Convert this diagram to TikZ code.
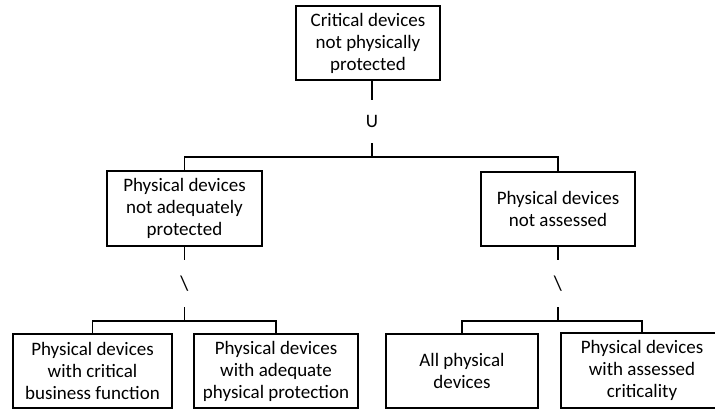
\documentclass[tikz,border=0pt]{standalone}
\usepackage{fontspec}
\setmainfont{Carlito}
\begin{document}
\begin{tikzpicture}[x=1pt,y=-1pt,
  every node/.style={font=\fontsize{19}{22}\selectfont},
  setbox/.style={draw,line width=1.7pt,rectangle,align=center,inner sep=0pt},
  opnode/.style={inner sep=0pt,minimum width=14pt},
  link/.style={line width=1.7pt}]
\useasboundingbox (0,0) rectangle (715,410);

% set boxes
\node[setbox,minimum width=144pt,minimum height=74pt] (top) at (368,43) {Critical devices\\not physically\\protected};
\node[setbox,minimum width=155pt,minimum height=75pt] (pna) at (184.5,208.5) {Physical devices\\not adequately\\protected};
\node[setbox,minimum width=154pt,minimum height=74pt] (pns) at (558,209) {Physical devices\\not assessed};
\node[setbox,minimum width=159pt,minimum height=74pt] (crit) at (92.5,371) {Physical devices\\with critical\\business function};
\node[setbox,minimum width=164pt,minimum height=74pt] (adeq) at (276,371) {Physical devices\\with adequate\\physical protection};
\node[setbox,minimum width=152pt,minimum height=74pt] (all) at (462,371) {All physical\\devices};
\node[setbox,minimum width=162pt,minimum height=75pt] (asse) at (642,370.5) {Physical devices\\with assessed\\criticality};

% set operators
\node[opnode,minimum height=43pt] (union) at (372,121.5) {U};
\node[opnode,minimum height=47pt,font=\fontsize{21}{22}\selectfont] (diff1) at (184.5,283.5) {\textbackslash};
\node[opnode,minimum height=47pt,font=\fontsize{21}{22}\selectfont] (diff2) at (558,283.5) {\textbackslash};

% junction points
\coordinate (j0) at (372,157);
\coordinate (j1) at (184.5,321);
\coordinate (j2) at (558,321);

% connectors
\draw[link] (top.south -| union) -- (union.north);
\draw[link] (union.south) -- (j0);
\draw[link] (pna.north) |- (j0) -| (pns.north);

\draw[link] (pna.south) -- (diff1.north);
\draw[link] (diff1.south) -- (j1);
\draw[link] (crit.north) |- (j1) -| (adeq.north);

\draw[link] (pns.south) -- (diff2.north);
\draw[link] (diff2.south) -- (j2);
\draw[link] (all.north) |- (j2) -| (asse.north);
\end{tikzpicture}
\end{document}
